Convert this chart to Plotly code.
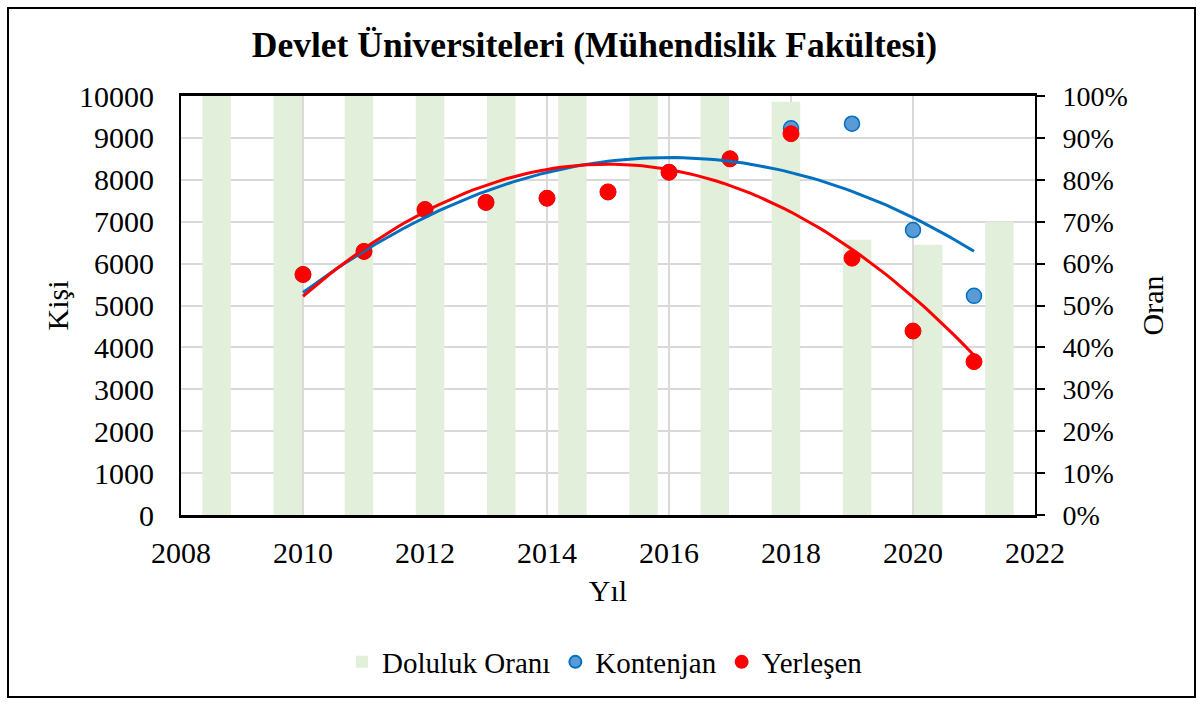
import numpy as np
import plotly.graph_objects as go

# data
years = [2010, 2011, 2012, 2013, 2014, 2015, 2016, 2017, 2018, 2019, 2020, 2021]
kontenjan = [5740, 6290, 7290, 7460, 7560, 7710, 8180, 8500, 9230, 9340, 6800, 5230]
yerlesen = [5740, 6290, 7290, 7460, 7560, 7710, 8180, 8500, 9100, 6130, 4390, 3660]
doluluk = [1.0, 1.0, 1.0, 1.0, 1.0, 1.0, 1.0, 1.0, 0.986, 0.657, 0.645, 0.70]

FONT = "Liberation Serif"
W, H = 1203, 704
L, R, T, B = 181, 168, 96, 189  # plot area 181..1035 x 96..515


def px(x):
    return (x - L) / (W - L - R)


def py(y):
    return (H - B - y) / (H - T - B)


def f(size):
    return dict(family=FONT, size=size, color="black")


# polynomial (order 2) trendlines like Excel
def trend(xs, ys):
    c = np.polyfit(xs, ys, 2)
    xx = np.linspace(min(xs), max(xs), 100)
    return xx, np.polyval(c, xx)


fig = go.Figure()

# bars on the base (category) subplot so they sit under the points
fig.add_trace(go.Bar(
    x=[str(y) for y in years], y=doluluk, name="Doluluk Oranı",
    marker=dict(color="#E2EFDA", line=dict(width=0)),
    xaxis="x", yaxis="y",
))

fig.add_trace(go.Scatter(
    x=years, y=kontenjan, mode="markers", name="Kontenjan",
    marker=dict(size=15, color="#5B9BD5", line=dict(color="#0070C0", width=1.5)),
    xaxis="x2", yaxis="y2",
))
fig.add_trace(go.Scatter(
    x=years, y=yerlesen, mode="markers", name="Yerleşen",
    marker=dict(size=16, color="#FF0000", line=dict(color="#FF0000", width=1)),
    xaxis="x2", yaxis="y2",
))

tx, ty = trend(years, kontenjan)
fig.add_trace(go.Scatter(x=tx, y=ty, mode="lines", showlegend=False, hoverinfo="skip",
                         line=dict(color="#0070C0", width=3), xaxis="x2", yaxis="y2"))
tx, ty = trend(years, yerlesen)
fig.add_trace(go.Scatter(x=tx, y=ty, mode="lines", showlegend=False, hoverinfo="skip",
                         line=dict(color="#FF0000", width=3), xaxis="x2", yaxis="y2"))

fig.update_layout(
    width=W, height=H,
    margin=dict(l=L, r=R, t=T, b=B),
    paper_bgcolor="white", plot_bgcolor="white",
    font=f(28),
    bargap=0.6,
    title=dict(text="<b>Devlet Üniversiteleri (Mühendislik Fakültesi)</b>",
               x=px(603), xanchor="center", y=1 - 45 / H, yanchor="middle",
               font=f(35.5)),
    showlegend=True,
    legend=dict(orientation="h", x=px(605), xanchor="center", y=py(662), yanchor="middle",
                font=f(29), itemsizing="constant", traceorder="normal"),
    xaxis=dict(type="category", range=[-0.5, 11.5], visible=False, anchor="y"),
    yaxis=dict(range=[0, 1], side="right", tickformat=".0%", dtick=0.1,
               showgrid=False, zeroline=False, showline=True, linecolor="black", linewidth=2,
               ticks="outside", ticklen=8, tickcolor="black", tickwidth=2,
               ticklabelstandoff=12, tickfont=f(28),
               title=dict(text="Oran", standoff=15, font=f(30)), anchor="x"),
    xaxis2=dict(overlaying="x", range=[2008, 2022], dtick=2, side="bottom", anchor="y2",
                showgrid=True, gridcolor="#D9D9D9", gridwidth=1.5, zeroline=False,
                showline=True, linecolor="black", linewidth=3, mirror=True,
                ticks="", ticklabelstandoff=9, tickfont=f(30),
                title=dict(text="Yıl", standoff=12, font=f(30))),
    yaxis2=dict(overlaying="y", range=[0, 10000], dtick=1000, side="left", anchor="x2",
                tickformat="d",
                showgrid=True, gridcolor="#D9D9D9", gridwidth=1.5, zeroline=False,
                showline=True, linecolor="black", linewidth=2,
                ticks="", ticklabelstandoff=19, tickfont=f(30),
                title=dict(text="Kişi", standoff=2, font=f(30))),
)

# outer chart border
fig.add_shape(type="rect", xref="paper", yref="paper",
              x0=px(8), x1=px(1195), y0=py(697), y1=py(8),
              line=dict(color="black", width=2), fillcolor="rgba(0,0,0,0)", layer="below")

# page body has a default margin; drop it so the figure fills the window
fig.write_html("out.html", config={"displayModeBar": False},
               post_script="document.body.style.margin='0';")
